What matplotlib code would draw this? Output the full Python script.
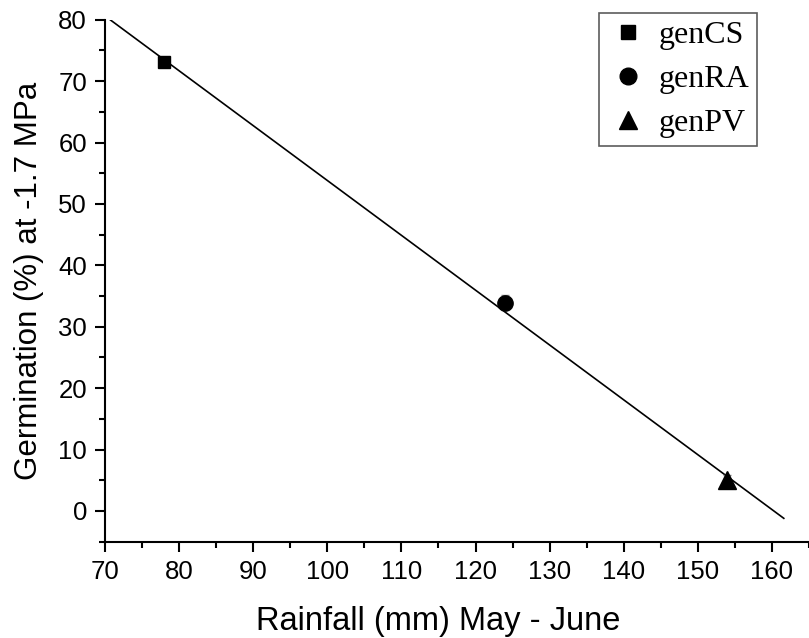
import matplotlib
matplotlib.use("Agg")
import matplotlib.pyplot as plt
from matplotlib.ticker import MultipleLocator
from matplotlib.lines import Line2D

# Data
names = ["genCS", "genRA", "genPV"]
rain = [78, 124, 154]
germ = [73.2, 33.9, 5.0]
err = [0.6, 1.2, 0.8]
markers = ["s", "o", "^"]
msizes = [8, 11, 12.5]
leg_msizes = [10.5, 12, 13]
fit_x = [70.7, 161.6]
fit_y = [80.0, -1.2]

fig = plt.figure(figsize=(8.09, 6.38), dpi=100)
ax = fig.add_axes([0.1298, 0.151, 0.8702, 0.818])

ax.plot(fit_x, fit_y, color="black", lw=1.2, zorder=2)
for n, x, y, e, m, s in zip(names, rain, germ, err, markers, msizes):
    ax.errorbar([x], [y], yerr=[e], fmt=m, color="black", ms=s, ecolor="gray",
                elinewidth=1, capsize=3, zorder=3, linestyle="none")

ax.set_xlim(70, 165)
ax.set_ylim(-5, 80)
ax.xaxis.set_major_locator(MultipleLocator(10))
ax.xaxis.set_minor_locator(MultipleLocator(5))
ax.yaxis.set_major_locator(MultipleLocator(10))
ax.yaxis.set_minor_locator(MultipleLocator(5))
ax.spines["top"].set_visible(False)
ax.spines["right"].set_visible(False)
for s in ["left", "bottom"]:
    ax.spines[s].set_linewidth(1.5)
ax.tick_params(which="major", direction="out", length=7, width=1.5, pad=6,
               labelsize=18.5, labelfontfamily="Liberation Sans")
ax.tick_params(which="minor", direction="out", length=4.5, width=1.5)
ax.set_xlabel("Rainfall (mm) May - June", fontsize=23.5, family="Liberation Sans")
ax.xaxis.set_label_coords(0.473, -0.123, transform=ax.transAxes)
ax.xaxis.label.set_va("top")
ax.set_ylabel("Germination (%) at -1.7 MPa", fontsize=22.5, family="Liberation Sans", labelpad=10)

handles = [Line2D([], [], marker=m, color="black", ms=s, linestyle="none")
           for m, s in zip(markers, leg_msizes)]
leg = ax.legend(handles, names, loc="upper right", bbox_to_anchor=(0.926, 1.013),
                borderaxespad=0,
                prop={"family": "Liberation Serif", "size": 23}, frameon=True,
                fancybox=False, edgecolor="#333333", handletextpad=0.3,
                labelspacing=0.45, borderpad=0.25, handlelength=1.3)
leg.get_frame().set_linewidth(1.2)

fig.savefig("out.png", dpi=100)
